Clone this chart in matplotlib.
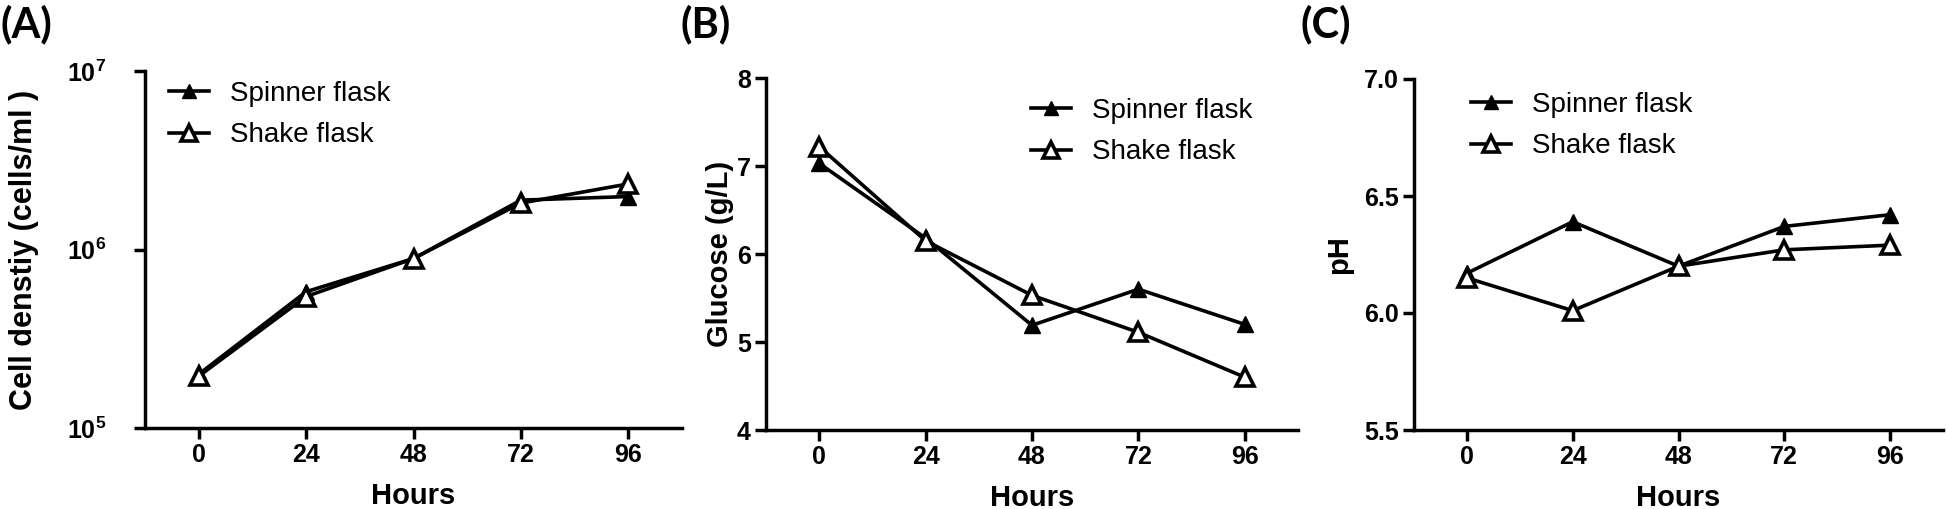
import numpy as np
import matplotlib
matplotlib.use('Agg')
import matplotlib.pyplot as plt
from matplotlib.lines import Line2D

plt.rcParams['font.family'] = ['Liberation Sans', 'DejaVu Sans']
plt.rcParams['mathtext.fontset'] = 'custom'
plt.rcParams['mathtext.rm'] = 'Liberation Sans:bold'
plt.rcParams['mathtext.bf'] = 'Liberation Sans:bold'

hours = [0, 24, 48, 72, 96]
series_names = ['Spinner flask', 'Shake flask']

cell_spinner = [2.0e5, 5.8e5, 8.9e5, 1.89e6, 1.98e6]
cell_shake = [1.95e5, 5.45e5, 8.9e5, 1.82e6, 2.33e6]

glucose_spinner = [7.03, 6.18, 5.19, 5.60, 5.20]
glucose_shake = [7.22, 6.15, 5.53, 5.11, 4.60]

ph_spinner = [6.17, 6.39, 6.20, 6.37, 6.42]
ph_shake = [6.15, 6.01, 6.20, 6.27, 6.29]

W, H = 1946, 509


def fig_rect(left, top, right, bottom):
    return [left / W, 1 - bottom / H, (right - left) / W, (bottom - top) / H]


def style_axes(ax):
    for s in ['top', 'right']:
        ax.spines[s].set_visible(False)
    for s in ['left', 'bottom']:
        ax.spines[s].set_linewidth(2.5)
    ax.tick_params(width=2.5, length=8, labelsize=18, pad=3)
    for lab in ax.get_xticklabels() + ax.get_yticklabels():
        lab.set_fontweight('bold')
    ax.set_xlim(-12, 108)
    ax.set_xticks(hours)
    ax.set_xticklabels([str(h) for h in hours], fontweight='bold')
    ax.set_xlabel('Hours', fontsize=21, fontweight='bold', labelpad=10.5)


def plot_pair(ax, spinner, shake):
    ax.plot(hours, spinner, color='black', lw=2.6, marker='^', ms=12,
            mfc='black', mec='black', clip_on=False, zorder=3)
    ax.plot(hours, shake, color='black', lw=2.6, marker='^', ms=13,
            mfc='white', mec='black', mew=2.6, clip_on=False, zorder=4)


def add_legend(ax, x, y):
    handles = [Line2D([], [], color='black', lw=2.6, marker='^', ms=10,
                      mfc='black', mec='black'),
               Line2D([], [], color='black', lw=2.6, marker='^', ms=11,
                      mfc='white', mec='black', mew=2.6)]
    ax.legend(handles, series_names, loc='upper left', frameon=False,
              bbox_to_anchor=(x / W, 1 - y / H),
              bbox_transform=ax.figure.transFigure,
              fontsize=20, handlelength=1.45, handletextpad=0.75,
              borderpad=0, borderaxespad=0, labelspacing=0.55)


fig = plt.figure(figsize=(W / 100, H / 100), dpi=100)

# (A) cell density
ax0 = fig.add_axes(fig_rect(145, 71, 682, 428))
plot_pair(ax0, cell_spinner, cell_shake)
ax0.set_yscale('log')
ax0.set_ylim(1e5, 1e7)
ax0.set_yticks([1e5, 1e6, 1e7])
ax0.yaxis.set_minor_locator(matplotlib.ticker.NullLocator())
ax0.set_yticklabels([r'$\mathbf{10^{5}}$', r'$\mathbf{10^{6}}$', r'$\mathbf{10^{7}}$'])
style_axes(ax0)
ax0.tick_params(axis='y', pad=20)
ax0.set_ylabel('Cell denstiy (cells/ml )', fontsize=22, fontweight='bold', labelpad=20)
add_legend(ax0, 169, 81)

# (B) glucose
ax1 = fig.add_axes(fig_rect(766, 78, 1298, 430))
plot_pair(ax1, glucose_spinner, glucose_shake)
ax1.set_ylim(4, 8)
ax1.set_yticks([4, 5, 6, 7, 8])
style_axes(ax1)
ax1.set_ylabel('Glucose (g/L)', fontsize=21, fontweight='bold', labelpad=2)
add_legend(ax1, 1031, 98)

# (C) pH
ax2 = fig.add_axes(fig_rect(1414, 79, 1943, 430))
plot_pair(ax2, ph_spinner, ph_shake)
ax2.set_ylim(5.5, 7.0)
ax2.set_yticks([5.5, 6.0, 6.5, 7.0])
ax2.set_yticklabels(['5.5', '6.0', '6.5', '7.0'])
style_axes(ax2)
ax2.set_ylabel('pH', fontsize=21, fontweight='bold', labelpad=8)
add_legend(ax2, 1471, 92)

for label, x in [('(A)', 0), ('(B)', 680), ('(C)', 1300)]:
    fig.text(x / W, 1 - 24 / H, label, fontsize=30, fontweight='bold',
             family=['Lato', 'DejaVu Sans'], va='center', ha='left')

fig.savefig('out.png', dpi=100)
